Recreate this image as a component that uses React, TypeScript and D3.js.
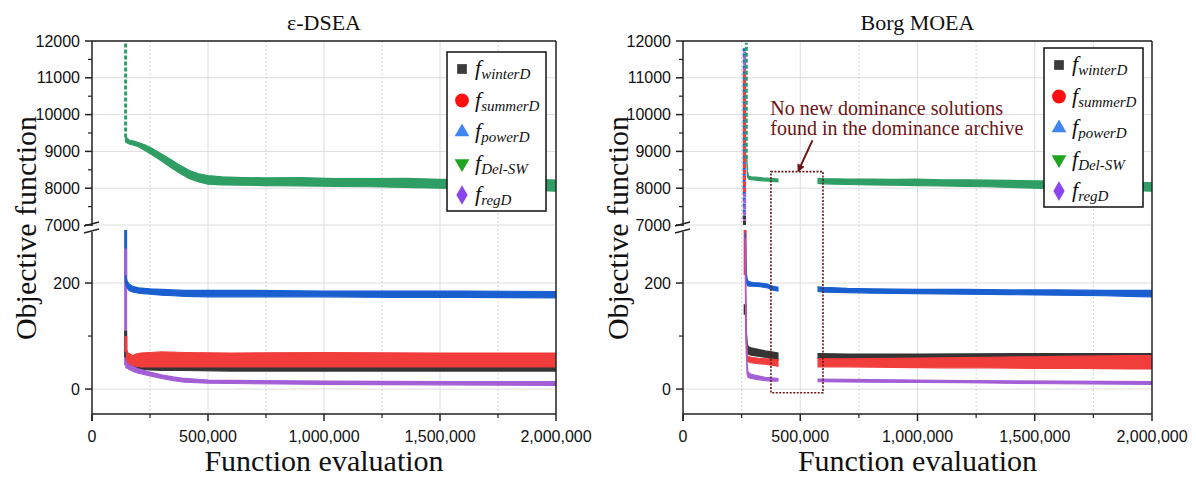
import React from 'react';
import * as d3 from 'd3';

const W = 1196;
const H = 477;

// ---------- axis ticks ----------
const xMajorTicks = [0, 500000, 1000000, 1500000, 2000000];
const xMinorTicks = [250000, 750000, 1250000, 1750000];
const yUpperTicks = [7000, 8000, 9000, 10000, 11000, 12000];
const yUpperMinor = [7500, 8500, 9500, 10500, 11500];
const yLowerTicks = [0, 200];
const yLowerMinor = [100];
const yUpperDomain = [7000, 12000];
const yLowerDomain = [-47, 300];
const xDomain = [0, 2000000];

// ---------- legend ----------
const legendKeys = ['winterD', 'summerD', 'powerD', 'Del-SW', 'regD'];
const legendColors = ['#3c3c3c', '#ff1010', '#3f86f2', '#1fa51f', '#8a45ec'];
const bandColors: Record<string, string> = {
  winterD: '#353535',
  summerD: '#f23d3d',
  powerD: '#1a5fd0',
  'Del-SW': '#2f9e64',
  regD: '#a35fd6',
};

// ---------- ε-DSEA data (band envelopes) ----------
const dseaDelX = [145e3, 160e3, 180e3, 200e3, 230e3, 260e3, 300e3, 340e3, 380e3, 420e3, 460e3, 500e3, 560e3, 650e3, 750e3, 900e3, 1050e3, 1200e3, 1350e3, 1500e3, 1650e3, 1800e3, 1900e3, 2000e3];
const dseaDelHi = [9390, 9310, 9280, 9240, 9170, 9080, 8930, 8780, 8620, 8480, 8390, 8340, 8310, 8290, 8280, 8290, 8260, 8260, 8270, 8240, 8240, 8230, 8240, 8220];
const dseaDelLo = [9250, 9200, 9170, 9130, 9020, 8900, 8740, 8560, 8400, 8260, 8170, 8110, 8090, 8080, 8070, 8060, 8050, 8040, 8020, 8000, 7980, 7960, 7940, 7920];

const dseaPowX = [145e3, 150e3, 160e3, 175e3, 200e3, 250e3, 300e3, 350e3, 400e3, 500e3, 700e3, 1000e3, 1300e3, 1600e3, 2000e3];
const dseaPowHi = [215, 205, 198, 194, 191, 189, 188, 187, 186, 186, 186, 185, 185, 185, 184];
const dseaPowLo = [198, 192, 186, 183, 181, 179, 177, 176, 175, 174, 174, 174, 173, 173, 172];

const dseaWinX = [148e3, 160e3, 175e3, 200e3, 250e3, 300e3, 400e3, 600e3, 1000e3, 2000e3];
const dseaWinHi = [70, 52, 48, 46, 44, 44, 43, 43, 43, 43];
const dseaWinLo = [55, 44, 40, 38, 36, 35, 35, 34, 34, 34];

const dseaSumX = [148e3, 155e3, 165e3, 175e3, 190e3, 210e3, 250e3, 300e3, 400e3, 600e3, 1000e3, 1500e3, 2000e3];
const dseaSumHi = [75, 68, 66, 63, 66, 68, 69, 70, 69, 68, 69, 68, 68];
const dseaSumLo = [55, 50, 47, 45, 43, 42, 42, 42, 42, 42, 42, 42, 42];

const dseaRegX = [146e3, 150e3, 160e3, 180e3, 200e3, 250e3, 300e3, 350e3, 400e3, 500e3, 700e3, 1000e3, 1500e3, 2000e3];
const dseaRegHi = [55, 50, 46, 42, 38, 32, 27, 23, 20, 17, 16, 15, 14, 14];
const dseaRegLo = [40, 40, 37, 33, 30, 25, 20, 16, 13, 11, 10, 9, 8, 7];

// spikes: [x, from, to]
const dseaUpperSpikes: [string, number, number, number][] = [['Del-SW', 145e3, 9380, 11950]];
const dseaLowerSpikes: [string, number, number, number][] = [
  ['powerD', 145e3, 300, 200],
  ['regD', 145e3, 265, 45],
  ['winterD', 145e3, 110, 60],
  ['summerD', 146e3, 100, 70],
];

// ---------- Borg MOEA data ----------
const borgDelX1 = [272e3, 275e3, 280e3, 290e3, 310e3, 340e3, 370e3, 405e3];
const borgDelHi1 = [8850, 8450, 8330, 8310, 8300, 8280, 8270, 8250];
const borgDelLo1 = [8700, 8300, 8250, 8230, 8220, 8200, 8190, 8170];
const borgDelX2 = [576e3, 600e3, 700e3, 800e3, 900e3, 1000e3, 1100e3, 1200e3, 1300e3, 1400e3, 1500e3, 1600e3, 1700e3, 1800e3, 1900e3, 2000e3];
const borgDelHi2 = [8270, 8260, 8250, 8250, 8240, 8250, 8230, 8230, 8220, 8210, 8200, 8190, 8180, 8180, 8160, 8150];
const borgDelLo2 = [8130, 8120, 8100, 8090, 8080, 8070, 8060, 8050, 8040, 8020, 8000, 7990, 7970, 7960, 7940, 7920];

const borgPowX1 = [266e3, 268e3, 271e3, 275e3, 285e3, 300e3, 330e3, 360e3, 380e3, 405e3];
const borgPowHi1 = [295, 250, 215, 205, 202, 201, 200, 198, 194, 192];
const borgPowLo1 = [270, 225, 200, 195, 194, 194, 193, 191, 187, 185];
const borgPowX2 = [576e3, 600e3, 700e3, 800e3, 1000e3, 1200e3, 1400e3, 1600e3, 1800e3, 1900e3, 2000e3];
const borgPowHi2 = [193, 192, 190, 189, 188, 188, 187, 187, 186, 186, 186];
const borgPowLo2 = [184, 183, 182, 181, 180, 179, 178, 177, 176, 175, 174];

const borgWinX1 = [267e3, 270e3, 274e3, 278e3, 290e3, 320e3, 350e3, 380e3, 405e3];
const borgWinHi1 = [150, 110, 85, 80, 78, 75, 72, 70, 68];
const borgWinLo1 = [130, 90, 70, 66, 64, 62, 60, 57, 55];
const borgWinX2 = [576e3, 700e3, 1000e3, 1500e3, 2000e3];
const borgWinHi2 = [67, 66, 66, 67, 67];
const borgWinLo2 = [58, 58, 58, 58, 58];

const borgSumX1 = [266e3, 268e3, 271e3, 275e3, 290e3, 320e3, 350e3, 380e3, 405e3];
const borgSumHi1 = [215, 160, 90, 62, 60, 58, 57, 56, 55];
const borgSumLo1 = [190, 120, 65, 52, 50, 48, 47, 45, 43];
const borgSumX2 = [576e3, 700e3, 900e3, 1100e3, 1300e3, 1500e3, 1700e3, 1900e3, 2000e3];
const borgSumHi2 = [57, 57, 58, 59, 60, 61, 62, 63, 63];
const borgSumLo2 = [42, 42, 41, 40, 40, 39, 39, 38, 38];

const borgRegX1 = [266e3, 268e3, 270e3, 273e3, 277e3, 290e3, 320e3, 350e3, 380e3, 405e3];
const borgRegHi1 = [285, 200, 110, 50, 32, 28, 25, 22, 21, 20];
const borgRegLo1 = [240, 150, 70, 30, 22, 20, 18, 16, 15, 15];
const borgRegX2 = [576e3, 800e3, 1200e3, 1600e3, 2000e3];
const borgRegHi2 = [19, 18, 16, 15, 14];
const borgRegLo2 = [14, 13, 12, 10, 9];

const borgUpperSpikes: [string, number, number, number][] = [
  ['powerD', 261e3, 7150, 11800],
  ['regD', 263e3, 7100, 11700],
  ['summerD', 262e3, 7900, 11200],
  ['Del-SW', 270e3, 8800, 11950],
  ['winterD', 262e3, 7000, 7250],
];
const borgLowerSpikes: [string, number, number, number][] = [
  ['summerD', 265e3, 300, 215],
  ['winterD', 265e3, 160, 140],
];

// annotation (data units)
const gapBox = { x0: 375e3, x1: 597e3, yTop: 8450, yBottom: -7 };
const arrowFrom = { x: 552e3, y: 9300 };
const arrowTo = { x: 492e3, y: 8470 };
const noteLines = ['No new dominance solutions', 'found in the dominance archive'];
const notePos = { x: 372e3, y1: 9990, y2: 9440 };

type Band = { key: string; x: number[]; hi: number[]; lo: number[]; region: 'U' | 'L' };

const dseaBands: Band[] = [
  { key: 'Del-SW', x: dseaDelX, hi: dseaDelHi, lo: dseaDelLo, region: 'U' },
  { key: 'powerD', x: dseaPowX, hi: dseaPowHi, lo: dseaPowLo, region: 'L' },
  { key: 'winterD', x: dseaWinX, hi: dseaWinHi, lo: dseaWinLo, region: 'L' },
  { key: 'summerD', x: dseaSumX, hi: dseaSumHi, lo: dseaSumLo, region: 'L' },
  { key: 'regD', x: dseaRegX, hi: dseaRegHi, lo: dseaRegLo, region: 'L' },
];

const borgBands: Band[] = [
  { key: 'Del-SW', x: borgDelX1, hi: borgDelHi1, lo: borgDelLo1, region: 'U' },
  { key: 'Del-SW', x: borgDelX2, hi: borgDelHi2, lo: borgDelLo2, region: 'U' },
  { key: 'powerD', x: borgPowX1, hi: borgPowHi1, lo: borgPowLo1, region: 'L' },
  { key: 'powerD', x: borgPowX2, hi: borgPowHi2, lo: borgPowLo2, region: 'L' },
  { key: 'winterD', x: borgWinX1, hi: borgWinHi1, lo: borgWinLo1, region: 'L' },
  { key: 'winterD', x: borgWinX2, hi: borgWinHi2, lo: borgWinLo2, region: 'L' },
  { key: 'summerD', x: borgSumX1, hi: borgSumHi1, lo: borgSumLo1, region: 'L' },
  { key: 'summerD', x: borgSumX2, hi: borgSumHi2, lo: borgSumLo2, region: 'L' },
  { key: 'regD', x: borgRegX1, hi: borgRegHi1, lo: borgRegLo1, region: 'L' },
  { key: 'regD', x: borgRegX2, hi: borgRegHi2, lo: borgRegLo2, region: 'L' },
];

// ---------- layout ----------
const TOP = 41;
const UPPER_BOTTOM = 225;
const LOWER_TOP = 230;
const BOTTOM = 414;
const SANS = 'Liberation Sans, Arial, sans-serif';
const SERIF = 'Liberation Serif, Times New Roman, serif';

type PanelProps = {
  id: string;
  x0: number;
  x1: number;
  title: string;
  bands: Band[];
  upperSpikes: [string, number, number, number][];
  lowerSpikes: [string, number, number, number][];
  legendX: number;
  legendY: number;
  yLabelX: number;
  annotate?: boolean;
};

function Legend({ x, y }: { x: number; y: number }) {
  const w = 99;
  const h = 159;
  const symbols = [
    d3.symbol().type(d3.symbolSquare).size(95)(),
    d3.symbol().type(d3.symbolCircle).size(150)(),
    d3.symbol().type(d3.symbolTriangle).size(95)(),
    d3.symbol().type(d3.symbolTriangle).size(95)(),
    d3.symbol().type(d3.symbolDiamond).size(110)(),
  ];
  return (
    <g>
      <rect x={x} y={y} width={w} height={h} fill="#fff" stroke="#111" strokeWidth={1.5} />
      {legendKeys.map((k, i) => {
        const cy = y + 17 + i * 31.5;
        return (
          <g key={k}>
            <path
              d={symbols[i] || ''}
              transform={`translate(${x + 15},${cy})${i === 3 ? ' rotate(180)' : ''}`}
              fill={legendColors[i]}
            />
            <text x={x + 28} y={cy + 6} fontFamily={SERIF} fontStyle="italic" fill="#111">
              <tspan fontSize={22}>f</tspan>
              <tspan fontSize={15} dy={4}>{k}</tspan>
            </text>
          </g>
        );
      })}
    </g>
  );
}

function Panel(p: PanelProps) {
  const xs = d3.scaleLinear().domain(xDomain).range([p.x0, p.x1]);
  const yU = d3.scaleLinear().domain(yUpperDomain).range([UPPER_BOTTOM, TOP]);
  const yL = d3.scaleLinear().domain(yLowerDomain).range([BOTTOM, LOWER_TOP]);
  const fmt = d3.format(',');
  const cx = (p.x0 + p.x1) / 2;

  const areaFor = (b: Band) => {
    const ys = b.region === 'U' ? yU : yL;
    const idx = b.x.map((_, i) => i);
    return (
      d3
        .area<number>()
        .x((i) => xs(b.x[i]))
        .y0((i) => ys(b.lo[i]))
        .y1((i) => ys(b.hi[i]))(idx) || ''
    );
  };

  return (
    <g>
      <defs>
        <clipPath id={`${p.id}-cu`}>
          <rect x={p.x0} y={TOP} width={p.x1 - p.x0} height={UPPER_BOTTOM - TOP + 1} />
        </clipPath>
        <clipPath id={`${p.id}-cl`}>
          <rect x={p.x0} y={LOWER_TOP} width={p.x1 - p.x0} height={BOTTOM - LOWER_TOP} />
        </clipPath>
      </defs>
      {/* title */}
      <text x={cx} y={30} textAnchor="middle" fontFamily={SERIF} fontSize={22} fill="#111">
        {p.title}
      </text>
      {/* gridlines */}
      {xMajorTicks.slice(1, -1).map((t) => (
        <line key={`gx${t}`} x1={xs(t)} x2={xs(t)} y1={TOP} y2={BOTTOM} stroke="#dcdcdc" strokeWidth={1} />
      ))}
      {xMinorTicks.map((t) => (
        <line key={`gm${t}`} x1={xs(t)} x2={xs(t)} y1={TOP} y2={BOTTOM} stroke="#d4d4d4" strokeWidth={1} strokeDasharray="2 2" />
      ))}
      {yUpperTicks.map((t) => (
        <line key={`gu${t}`} x1={p.x0} x2={p.x1} y1={yU(t)} y2={yU(t)} stroke="#dcdcdc" strokeWidth={1} />
      ))}
      {yLowerTicks.map((t) => (
        <line key={`gl${t}`} x1={p.x0} x2={p.x1} y1={yL(t)} y2={yL(t)} stroke="#dcdcdc" strokeWidth={1} />
      ))}

      {/* data */}
      <g clipPath={`url(#${p.id}-cu)`}>
        {p.bands
          .filter((b) => b.region === 'U')
          .map((b, i) => (
            <path key={`bu${i}`} d={areaFor(b)} fill={bandColors[b.key]} stroke={bandColors[b.key]} strokeWidth={1.2} />
          ))}
        {p.upperSpikes.map(([k, x, a, b], i) => (
          <line key={`su${i}`} x1={xs(x)} x2={xs(x)} y1={yU(a)} y2={yU(b)} stroke={bandColors[k]} strokeWidth={3} strokeDasharray="4 2" />
        ))}
      </g>
      <g clipPath={`url(#${p.id}-cl)`}>
        {p.lowerSpikes.map(([k, x, a, b], i) => (
          <line key={`sl${i}`} x1={xs(x)} x2={xs(x)} y1={yL(a)} y2={yL(b)} stroke={bandColors[k]} strokeWidth={3} />
        ))}
        {p.bands
          .filter((b) => b.region === 'L')
          .map((b, i) => (
            <path key={`bl${i}`} d={areaFor(b)} fill={bandColors[b.key]} stroke={bandColors[b.key]} strokeWidth={1.2} />
          ))}
      </g>

      {/* annotation */}
      {p.annotate && (
        <g>
          <rect
            x={xs(gapBox.x0)}
            y={yU(gapBox.yTop)}
            width={xs(gapBox.x1) - xs(gapBox.x0)}
            height={yL(gapBox.yBottom) - yU(gapBox.yTop)}
            fill="none"
            stroke="#6e1414"
            strokeWidth={1.6}
            strokeDasharray="2 1.5"
          />
          <line x1={xs(arrowFrom.x)} y1={yU(arrowFrom.y)} x2={xs(arrowTo.x)} y2={yU(arrowTo.y)} stroke="#6e1414" strokeWidth={2} markerEnd={`url(#${p.id}-arrow)`} />
          <defs>
            <marker id={`${p.id}-arrow`} viewBox="0 0 10 10" refX={8} refY={5} markerWidth={4} markerHeight={4} orient="auto">
              <path d="M0,0 L10,5 L0,10 z" fill="#6e1414" />
            </marker>
          </defs>
          <text x={xs(notePos.x)} y={yU(notePos.y1)} fontFamily={SERIF} fontSize={20} fill="#6e1414">
            {noteLines[0]}
          </text>
          <text x={xs(notePos.x)} y={yU(notePos.y2)} fontFamily={SERIF} fontSize={20} fill="#6e1414">
            {noteLines[1]}
          </text>
        </g>
      )}

      {/* frame: top, right, bottom */}
      <line x1={p.x0} x2={p.x1} y1={TOP} y2={TOP} stroke="#222" strokeWidth={1.5} />
      <line x1={p.x1} x2={p.x1} y1={TOP} y2={BOTTOM} stroke="#222" strokeWidth={1.5} />
      <line x1={p.x0} x2={p.x1} y1={BOTTOM} y2={BOTTOM} stroke="#222" strokeWidth={1.5} />
      {/* left axis with break */}
      <line x1={p.x0} x2={p.x0} y1={TOP} y2={UPPER_BOTTOM + 1} stroke="#222" strokeWidth={1.5} />
      <line x1={p.x0} x2={p.x0} y1={LOWER_TOP + 2} y2={BOTTOM + 7} stroke="#222" strokeWidth={1.5} />
      <line x1={p.x0 - 8} x2={p.x0 + 7} y1={UPPER_BOTTOM + 1} y2={UPPER_BOTTOM - 3} stroke="#222" strokeWidth={1.5} />
      <line x1={p.x0 - 8} x2={p.x0 + 7} y1={LOWER_TOP + 3} y2={LOWER_TOP - 1} stroke="#222" strokeWidth={1.5} />

      {/* y ticks */}
      {yUpperTicks.map((t) => (
        <g key={`yu${t}`}>
          <line x1={p.x0 - 7} x2={p.x0} y1={yU(t)} y2={yU(t)} stroke="#222" strokeWidth={1.5} />
          <text x={p.x0 - 12} y={yU(t)} dy="0.35em" textAnchor="end" fontFamily={SANS} fontSize={16} fill="#111">
            {t}
          </text>
        </g>
      ))}
      {yUpperMinor.map((t) => (
        <line key={`yum${t}`} x1={p.x0 - 4} x2={p.x0} y1={yU(t)} y2={yU(t)} stroke="#222" strokeWidth={1.2} />
      ))}
      {yLowerTicks.map((t) => (
        <g key={`yl${t}`}>
          <line x1={p.x0 - 7} x2={p.x0} y1={yL(t)} y2={yL(t)} stroke="#222" strokeWidth={1.5} />
          <text x={p.x0 - 12} y={yL(t)} dy="0.35em" textAnchor="end" fontFamily={SANS} fontSize={16} fill="#111">
            {t}
          </text>
        </g>
      ))}
      {yLowerMinor.map((t) => (
        <line key={`ylm${t}`} x1={p.x0 - 4} x2={p.x0} y1={yL(t)} y2={yL(t)} stroke="#222" strokeWidth={1.2} />
      ))}
      {/* x ticks */}
      {xMajorTicks.map((t) => (
        <g key={`x${t}`}>
          <line x1={xs(t)} x2={xs(t)} y1={BOTTOM} y2={BOTTOM + 7} stroke="#222" strokeWidth={1.5} />
          <text x={xs(t)} y={442} textAnchor="middle" fontFamily={SANS} fontSize={16} fill="#111">
            {fmt(t)}
          </text>
        </g>
      ))}
      {xMinorTicks.map((t) => (
        <line key={`xm${t}`} x1={xs(t)} x2={xs(t)} y1={BOTTOM} y2={BOTTOM + 4} stroke="#222" strokeWidth={1.2} />
      ))}

      {/* axis labels */}
      <text x={cx} y={471} textAnchor="middle" fontFamily={SERIF} fontSize={30} fill="#111">
        Function evaluation
      </text>
      <text
        transform={`translate(${p.yLabelX},${228}) rotate(-90)`}
        textAnchor="middle"
        fontFamily={SERIF}
        fontSize={30}
        fill="#111"
      >
        Objective function
      </text>

      <Legend x={p.legendX} y={p.legendY} />
    </g>
  );
}

export default function App() {
  return (
    <svg
      width={W}
      height={H}
      viewBox={`0 0 ${W} ${H}`}
      style={{ position: 'absolute', left: 0, top: 0, background: '#fff' }}
    >
      <rect x={0} y={0} width={W} height={H} fill="#fff" />
      <Panel
        id="dsea"
        x0={92}
        x1={556}
        title="ε-DSEA"
        bands={dseaBands}
        upperSpikes={dseaUpperSpikes}
        lowerSpikes={dseaLowerSpikes}
        legendX={447}
        legendY={52}
        yLabelX={36}
      />
      <Panel
        id="borg"
        x0={683}
        x1={1152}
        title="Borg MOEA"
        bands={borgBands}
        upperSpikes={borgUpperSpikes}
        lowerSpikes={borgLowerSpikes}
        legendX={1044}
        legendY={48}
        yLabelX={628}
        annotate
      />
    </svg>
  );
}
